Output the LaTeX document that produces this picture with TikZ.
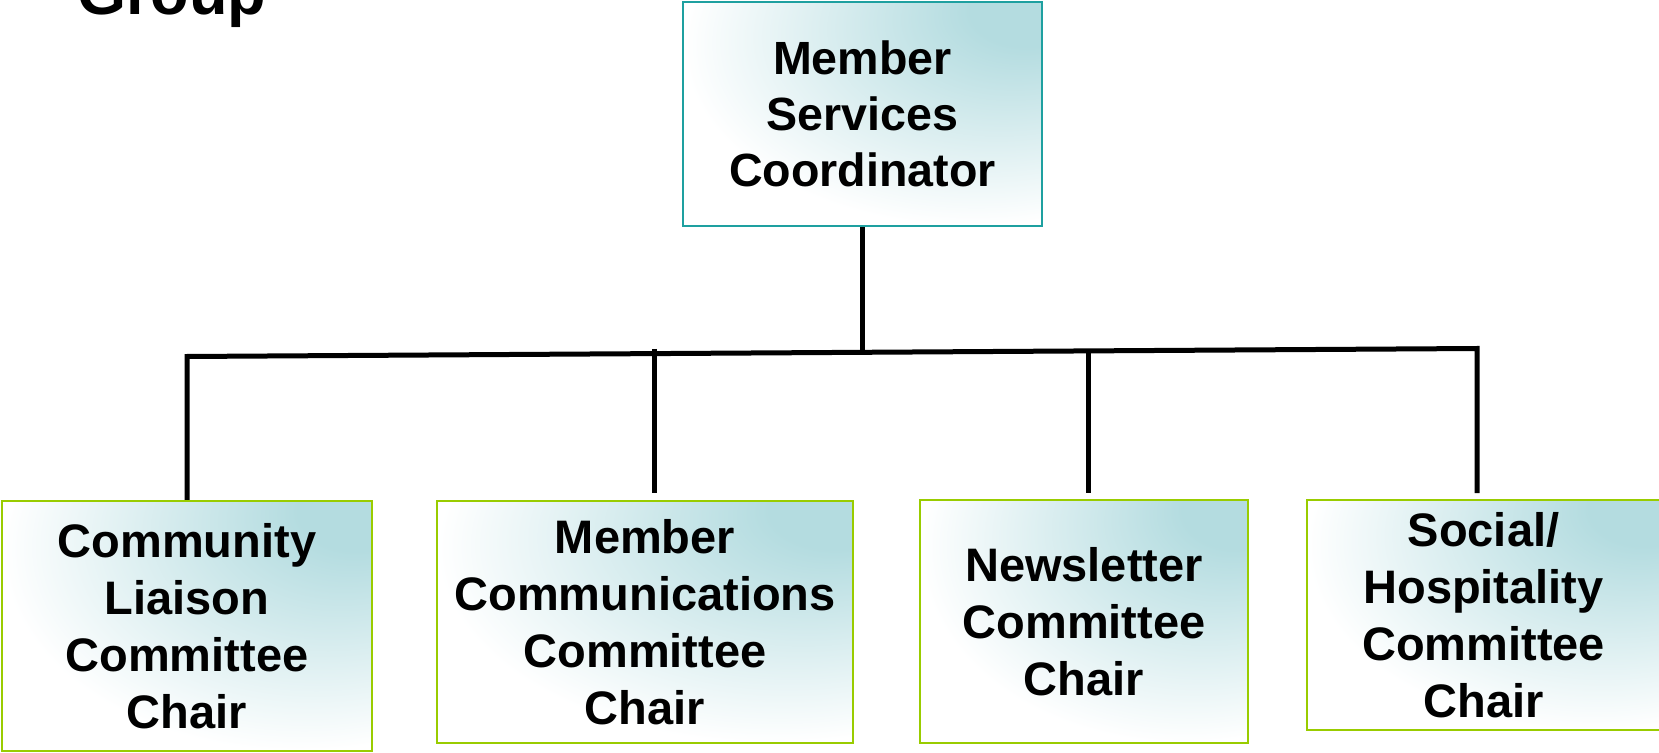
\documentclass[tikz,border=0pt]{standalone}
\usepackage{fontspec}
\setmainfont{Liberation Sans}
\definecolor{glow}{RGB}{180,220,224}
\definecolor{tealline}{RGB}{30,160,160}
\definecolor{greenline}{RGB}{153,204,0}
\pgfdeclareradialshading{boxglow}{\pgfpoint{25bp}{25bp}}{color(0bp)=(glow); color(8bp)=(glow); color(40bp)=(white); color(100bp)=(white)}
\begin{document}
\begin{tikzpicture}[x=0.5pt,y=-0.5pt,
  box/.style={rectangle, inner sep=0pt, shade, shading=boxglow, align=center,
    font=\bfseries\fontsize{23.5}{28.5}\selectfont, line width=1.2pt},
  topbox/.style={box, draw=tealline, font=\bfseries\fontsize{23.3}{28}\selectfont},
  chairbox/.style={box, draw=greenline},
  link/.style={line width=2.5pt, draw=black}]
\useasboundingbox (0,0) rectangle (1659,753);
\node[anchor=base west, inner sep=0pt, font=\bfseries\fontsize{31.5}{36}\selectfont] (title) at (77,15) {Group};
\node[topbox, minimum width=179.5pt, minimum height=112pt] (top) at (862.5,114) {Member\\Services\\Coordinator};
\node[chairbox, minimum width=185pt, minimum height=125pt] (b1) at (187,626) {Community\\Liaison\\Committee\\Chair};
\node[chairbox, minimum width=208pt, minimum height=121pt] (b2) at (645,622) {Member\\Communications\\Committee\\Chair};
\node[chairbox, minimum width=164pt, minimum height=121.5pt] (b3) at (1084,621.5) {Newsletter\\Committee\\Chair};
\node[chairbox, minimum width=176.5pt, minimum height=115pt] (b4) at (1483.5,615) {Social/\\Hospitality\\Committee\\Chair};
\coordinate (jt) at (862.5,352);
\coordinate (jl) at (187,356.5);
\coordinate (jr) at (1477,348.5);
\coordinate (e4) at (1477,493);
\coordinate (j2) at (654,349);
\coordinate (e2) at (654,493);
\coordinate (j3) at (1088,351);
\coordinate (e3) at (1088,493);
\draw[link] (top.south) -- (jt);
\draw[link, line join=miter] (b1.north) -- (jl) -- (jr) -- (e4);
\draw[link] (j2) -- (e2);
\draw[link] (j3) -- (e3);
\end{tikzpicture}
\end{document}
